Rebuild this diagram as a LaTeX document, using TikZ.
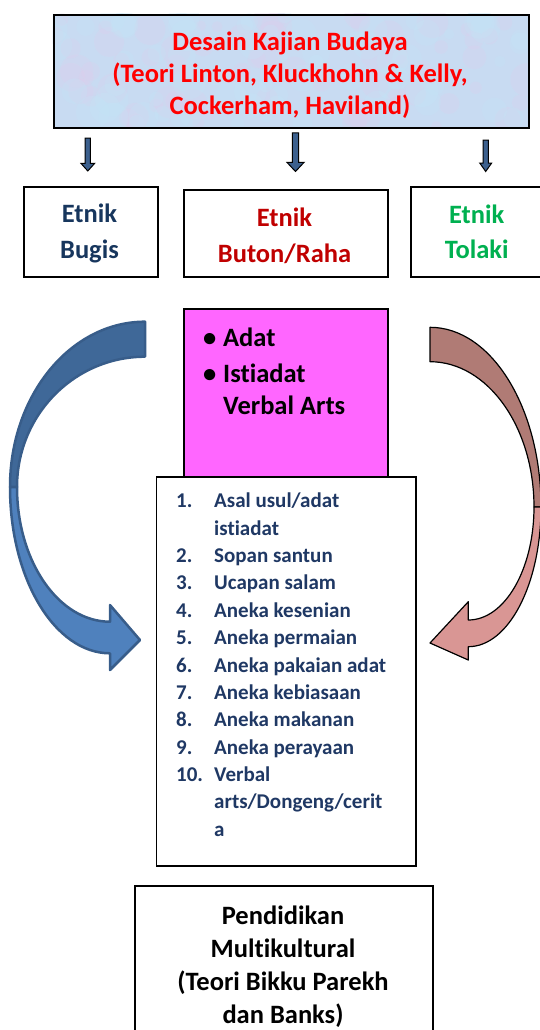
\documentclass[tikz,border=0pt]{standalone}
\usepackage{fontspec}
\setmainfont{Carlito}[Ligatures=NoCommon]
\usetikzlibrary{calc}
\definecolor{titlered}{RGB}{255,0,0}
\definecolor{bugisc}{RGB}{23,54,93}
\definecolor{butonc}{RGB}{192,0,0}
\definecolor{tolakic}{RGB}{0,176,80}
\definecolor{listc}{RGB}{31,56,100}
\definecolor{topfill}{RGB}{200,219,242}
\definecolor{blobpink}{RGB}{226,205,236}
\definecolor{blobcyan}{RGB}{195,230,247}
\definecolor{magentafill}{RGB}{255,102,255}
\definecolor{arrblue}{RGB}{60,96,142}
\definecolor{bluedark}{RGB}{63,104,152}
\definecolor{bluelight}{RGB}{79,129,189}
\definecolor{blueline}{RGB}{56,93,138}
\definecolor{pinkdark}{RGB}{176,123,117}
\definecolor{pinklight}{RGB}{217,150,148}
\newcommand{\blkarrow}[6]{%
  \filldraw[fill=arrblue, draw=black, line width=1pt, line join=miter]
    (#1-#5,#2) -- (#1+#5,#2) -- (#1+#5,#3) -- (#1+#6,#3) -- (#1,#4)
    -- (#1-#6,#3) -- (#1-#5,#3) -- cycle;}
\begin{document}
\begin{tikzpicture}[x=1pt,y=-1pt,
  boxsty/.style={draw=black, line width=2pt, inner sep=0pt, anchor=north west},
  thinbox/.style={boxsty, line width=1.5pt},
  ttl/.style={inner sep=0pt, align=center, text=titlered,
    font=\bfseries\fontsize{26.5}{31.7}\selectfont},
  etn/.style={inner sep=0pt, align=center,
    font=\bfseries\fontsize{26.5}{35.5}\selectfont},
  bul/.style={inner sep=0pt, anchor=base west,
    font=\bfseries\fontsize{26.5}{31.7}\selectfont},
  lst/.style={inner sep=0pt, anchor=north west, text=listc, align=left,
    font=\bfseries\fontsize{21}{27.36}\selectfont},
  pend/.style={inner sep=0pt, align=center,
    font=\bfseries\fontsize{26.5}{33}\selectfont},
  backblue/.style={fill=bluedark, draw=blueline, line width=2.5pt, line join=round},
  frontblue/.style={fill=bluelight, draw=blueline, line width=2.5pt, line join=round},
  backpink/.style={fill=pinkdark, draw=black, line width=1.2pt, line join=round},
  frontpink/.style={fill=pinklight, draw=black, line width=1.2pt, line join=round}]
\useasboundingbox (0,0) rectangle (540,1030);
\clip (0,0) rectangle (540,1030);

% top box background texture
\fill[topfill] (52.7,14) rectangle (527.5,126.7);
\begin{scope}
  \clip (52.7,14) rectangle (527.5,126.7);
  \pgfmathsetseed{7}
  \foreach \i in {1,...,70} {
    \pgfmathsetmacro\bx{52.7+474.8*rnd}
    \pgfmathsetmacro\by{14+112.7*rnd}
    \pgfmathsetmacro\br{5+12*rnd}
    \fill[blobpink, opacity=.22] (\bx,\by) circle [radius=\br pt];
  }
  \foreach \i in {1,...,70} {
    \pgfmathsetmacro\bx{52.7+474.8*rnd}
    \pgfmathsetmacro\by{14+112.7*rnd}
    \pgfmathsetmacro\br{5+12*rnd}
    \fill[blobcyan, opacity=.25] (\bx,\by) circle [radius=\br pt];
  }
\end{scope}
\node[boxsty, minimum width=474.8pt, minimum height=112.7pt] (top) at (52.7,14) {};
\node[ttl] (toptext) at (290,75.2)
  {Desain Kajian Budaya\\(Teori Linton, Kluckhohn \& Kelly,\\Cockerham, Haviland)};

% small block arrows
\blkarrow{87.8}{138}{163.3}{171}{2.6}{6.9}
\blkarrow{295.5}{133}{162.3}{171.5}{3.2}{8.6}
\blkarrow{485.7}{140}{163}{171.5}{2.6}{6}

% etnik boxes
\node[boxsty, minimum width=134.3pt, minimum height=89.7pt] (bugis) at (22.7,186) {};
\node[boxsty, minimum width=203.9pt, minimum height=87pt] (buton) at (182.8,188.7) {};
\node[boxsty, minimum width=133pt, minimum height=89.7pt] (tolaki) at (410,186) {};
\node[etn, text=bugisc] (bugist) at (89.5,233.2) {Etnik\\Bugis};
\node[etn, text=butonc] (butont) at (284.5,236) {Etnik\\Buton/Raha};
\node[etn, text=tolakic] (tolakit) at (476.7,231.6) {Etnik\\Tolaki};

% curved arrows (left, blue)
\path[backblue] (145,321.7) .. controls (70.4,321.7) and (10,395.7) .. (10,487)
  -- (17,487) .. controls (17,415) and (74.3,356.7) .. (145,356.7) -- cycle;
\path[frontblue] (10,487) .. controls (10,578.8) and (54.8,653.3) .. (110,653.3)
  -- (110,670) -- (140,640) -- (110,605) -- (110,621.7)
  .. controls (58.6,621.7) and (17,561.4) .. (17,487) -- cycle;

% curved arrows (right, pink)
\path[backpink] (430,327.3) .. controls (491.3,327.3) and (541,407.8) .. (541,507)
  -- (534,507) .. controls (534,426.8) and (487.4,361.7) .. (430,361.7) -- cycle;
\path[frontpink] (541,507) .. controls (541,584.2) and (508.5,646.7) .. (468.3,646.7)
  -- (468.3,660) -- (430,643) -- (468.3,601.7) -- (468.3,620)
  .. controls (504.6,620) and (534,569.4) .. (534,507) -- cycle;

% magenta box
\node[boxsty, fill=magentafill, minimum width=203.9pt, minimum height=167.4pt] (adat) at (182.8,308.3) {};
\node[bul] (adat1) at (203,346.5) {\makebox[20pt][l]{\textbullet}Adat};
\node[bul] (adat2) at (203,382) {\makebox[20pt][l]{\textbullet}Istiadat};
\node[bul] (adat3) at (223,414) {Verbal Arts};

% list box
\node[thinbox, fill=white, minimum width=259.4pt, minimum height=389pt] (list) at (155.6,476) {};
\node[lst] (listtext) at (176,488.5) {%
\begin{tabular}{@{}p{38pt}@{}l@{}}
1. & Asal usul/adat\\
   & istiadat\\
2. & Sopan santun\\
3. & Ucapan salam\\
4. & Aneka kesenian\\
5. & Aneka permaian\\
6. & Aneka pakaian adat\\
7. & Aneka kebiasaan\\
8. & Aneka makanan\\
9. & Aneka perayaan\\
10. & Verbal\\
   & arts/Dongeng/cerit\\
   & a
\end{tabular}};

% bottom box
\node[thinbox, minimum width=298.3pt, minimum height=170pt] (pendbox) at (134,885) {};
\node[pend] (pendt) at (283,966.5)
  {Pendidikan\\Multikultural\\(Teori Bikku Parekh\\dan Banks)};
\end{tikzpicture}
\end{document}
